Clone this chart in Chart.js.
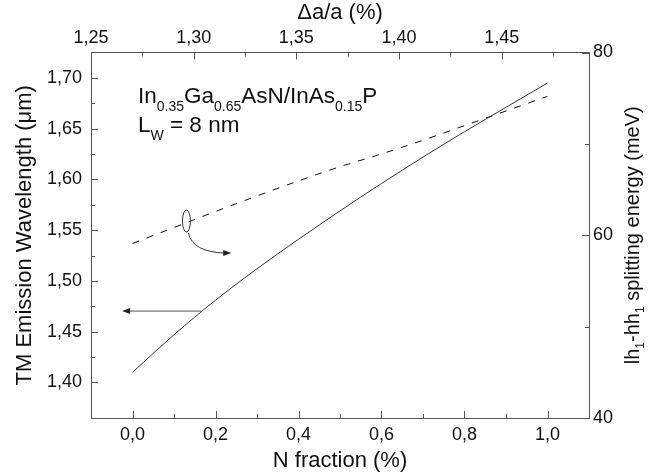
<!DOCTYPE html>
<html>
<head>
<meta charset="utf-8">
<script src="https://cdn.jsdelivr.net/npm/chart.js@4"></script>
<style>
  html, body { margin: 0; padding: 0; background: #fff; }
  #wrap { width: 648px; height: 474px; }
</style>
</head>
<body>
<div id="wrap"><canvas id="chart" width="648" height="474"></canvas></div>
<script>
'use strict';

// data
const nFraction = [0, 0.1, 0.2, 0.3, 0.4, 0.5, 0.6, 0.7, 0.8, 0.9, 1.0];
const wavelength = [1.410, 1.447, 1.481, 1.512, 1.541, 1.569, 1.596, 1.622, 1.647, 1.671, 1.695];
const splitting = [59.1, 60.85, 62.6, 64.3, 65.95, 67.5, 68.9, 70.4, 72.0, 73.6, 75.2];

// axis ticks
const bottomTicks = [0, 0.2, 0.4, 0.6, 0.8, 1.0];
const bottomMinor = [0.1, 0.3, 0.5, 0.7, 0.9];
const topTicks = [1.25, 1.30, 1.35, 1.40, 1.45];
const topMinor = [1.275, 1.325, 1.375, 1.425, 1.475];
const leftTicks = [1.40, 1.45, 1.50, 1.55, 1.60, 1.65, 1.70];
const leftMinor = [1.425, 1.475, 1.525, 1.575, 1.625, 1.675];
const rightTicks = [40, 60, 80];
const rightMinor = [50, 70];

const FONT = '"Liberation Sans", Arial, sans-serif';
const TEXT = '#111';
const AXIS = '#555';

const fmt = (v, d) => Number(v).toFixed(d).replace('.', ',');
const font = (size) => ({ family: FONT, size });
const setTicks = (arr) => (s) => { s.ticks = arr.map((v) => ({ value: v })); };

// inward major/minor tick marks
const tickMarks = {
  id: 'tickMarks',
  afterDraw(chart) {
    const { ctx, chartArea: a, scales } = chart;
    ctx.save();
    ctx.strokeStyle = AXIS;
    ctx.lineWidth = 1;
    const vert = (scale, vals, y0, dir, len) => vals.forEach((v) => {
      const x = Math.round(scale.getPixelForValue(v)) + 0.5;
      ctx.beginPath(); ctx.moveTo(x, y0); ctx.lineTo(x, y0 + dir * len); ctx.stroke();
    });
    const horiz = (scale, vals, x0, dir, len) => vals.forEach((v) => {
      const y = Math.round(scale.getPixelForValue(v)) + 0.5;
      ctx.beginPath(); ctx.moveTo(x0, y); ctx.lineTo(x0 + dir * len, y); ctx.stroke();
    });
    vert(scales.x, bottomTicks, a.bottom, -1, 7);
    vert(scales.x, bottomMinor, a.bottom, -1, 4);
    vert(scales.x2, topTicks, a.top, 1, 7);
    vert(scales.x2, topMinor, a.top, 1, 4);
    horiz(scales.y, leftTicks, a.left, 1, 7);
    horiz(scales.y, leftMinor, a.left, 1, 4);
    horiz(scales.y2, rightTicks, a.right, -1, 7);
    horiz(scales.y2, rightMinor, a.right, -1, 4);
    ctx.restore();
  },
};

// text with subscripts
function richWidth(ctx, parts, size, subSize) {
  return parts.reduce((w, [t, sub]) => {
    ctx.font = `${sub ? subSize : size}px ${FONT}`;
    return w + ctx.measureText(t).width;
  }, 0);
}

function drawRich(ctx, parts, x, y, size, subSize, drop) {
  parts.forEach(([t, sub]) => {
    ctx.font = `${sub ? subSize : size}px ${FONT}`;
    ctx.fillText(t, x, sub ? y + drop : y);
    x += ctx.measureText(t).width;
  });
}

function arrowHead(ctx, x, y, angle) {
  ctx.save();
  ctx.translate(x, y);
  ctx.rotate(angle);
  ctx.beginPath();
  ctx.moveTo(0, 0);
  ctx.lineTo(-8, -3);
  ctx.lineTo(-8, 3);
  ctx.closePath();
  ctx.fill();
  ctx.restore();
}

const notes = {
  id: 'notes',
  afterDatasetsDraw(chart) {
    const { ctx, chartArea: a, scales } = chart;
    ctx.save();
    ctx.fillStyle = TEXT;
    ctx.textBaseline = 'alphabetic';
    drawRich(ctx, [['In'], ['0.35', 1], ['Ga'], ['0.65', 1], ['AsN/InAs'], ['0.15', 1], ['P']],
      a.left + 47, a.top + 50.5, 22.5, 14, 8);
    drawRich(ctx, [['L'], ['W', 1], [' = 8 nm']], a.left + 47, a.top + 79, 22.5, 14, 8);

    // ellipse marking the dashed curve
    const ex = scales.x.getPixelForValue(0.13);
    const ey = scales.y2.getPixelForValue(61.56);
    ctx.strokeStyle = '#333';
    ctx.lineWidth = 1;
    ctx.beginPath();
    ctx.ellipse(ex, ey, 4, 11, 0, 0, Math.PI * 2);
    ctx.stroke();

    // curved arrow to the right axis
    const tx = scales.x.getPixelForValue(0.238);
    const ty = scales.y2.getPixelForValue(58.05);
    ctx.fillStyle = '#222';
    ctx.beginPath();
    ctx.moveTo(ex + 2, ey + 12);
    ctx.quadraticCurveTo(ex + 6, ty - 1, tx - 6, ty);
    ctx.stroke();
    arrowHead(ctx, tx, ty, 0);

    // straight arrow to the left axis
    const ay = scales.y.getPixelForValue(1.4703);
    const ax0 = scales.x.getPixelForValue(0.166);
    const ax1 = scales.x.getPixelForValue(-0.025);
    ctx.strokeStyle = '#555';
    ctx.beginPath();
    ctx.moveTo(ax0, ay);
    ctx.lineTo(ax1 + 4, ay);
    ctx.stroke();
    arrowHead(ctx, ax1, ay, Math.PI);
    ctx.restore();
  },
  afterDraw(chart) {
    // right axis title, read bottom-to-top with real subscripts
    const { ctx, chartArea: a } = chart;
    const parts = [['lh'], ['1', 1], ['-hh'], ['1', 1], [' splitting energy (meV)']];
    ctx.save();
    ctx.fillStyle = TEXT;
    ctx.textBaseline = 'alphabetic';
    ctx.translate(639, (a.top + a.bottom) / 2);
    ctx.rotate(-Math.PI / 2);
    const w = richWidth(ctx, parts, 20, 12);
    drawRich(ctx, parts, -w / 2, 0, 20, 12, 5);
    ctx.restore();
  },
};

new Chart(document.getElementById('chart'), {
  type: 'line',
  data: {
    datasets: [
      {
        label: 'TM emission wavelength',
        data: nFraction.map((x, i) => ({ x, y: wavelength[i] })),
        xAxisID: 'x',
        yAxisID: 'y',
        borderColor: '#333',
        borderWidth: 1,
        pointRadius: 0,
        cubicInterpolationMode: 'monotone',
      },
      {
        label: 'lh1-hh1 splitting energy',
        data: nFraction.map((x, i) => ({ x, y: splitting[i] })),
        xAxisID: 'x',
        yAxisID: 'y2',
        borderColor: '#111',
        borderWidth: 1,
        borderDash: [7, 8],
        pointRadius: 0,
        cubicInterpolationMode: 'monotone',
      },
    ],
  },
  options: {
    responsive: false,
    animation: false,
    layout: { padding: 0 },
    plugins: { legend: { display: false }, tooltip: { enabled: false } },
    scales: {
      x: {
        type: 'linear',
        position: 'bottom',
        min: -0.1,
        max: 1.1,
        afterBuildTicks: setTicks(bottomTicks),
        afterFit: (s) => { s.height = 56; },
        ticks: { autoSkip: false, maxRotation: 0, padding: 6, color: TEXT, font: font(18), callback: (v) => fmt(v, 1) },
        grid: { drawOnChartArea: false, drawTicks: false },
        border: { color: AXIS, width: 1 },
        title: { display: true, text: 'N fraction (%)', color: TEXT, font: font(22), padding: { top: 0, bottom: 0 } },
      },
      x2: {
        type: 'linear',
        position: 'top',
        min: 1.25,
        max: 1.4925,
        afterBuildTicks: setTicks(topTicks),
        afterFit: (s) => { s.height = 52.5; },
        ticks: { autoSkip: false, maxRotation: 0, padding: 4, color: TEXT, font: font(18), callback: (v) => fmt(v, 2) },
        grid: { drawOnChartArea: false, drawTicks: false },
        border: { color: AXIS, width: 1 },
        title: { display: true, text: 'Δa/a (%)', color: TEXT, font: font(22), padding: { top: 0, bottom: 0 } },
      },
      y: {
        type: 'linear',
        position: 'left',
        min: 1.365,
        max: 1.725,
        afterBuildTicks: setTicks(leftTicks),
        afterFit: (s) => { s.width = 91; },
        ticks: { autoSkip: false, padding: 9, color: TEXT, font: font(18), callback: (v) => fmt(v, 2) },
        grid: { drawOnChartArea: false, drawTicks: false },
        border: { color: AXIS, width: 1 },
        title: { display: true, text: 'TM Emission Wavelength (μm)', color: TEXT, font: font(22), padding: { top: 12, bottom: 0 } },
      },
      y2: {
        type: 'linear',
        position: 'right',
        min: 40,
        max: 80,
        afterBuildTicks: setTicks(rightTicks),
        afterFit: (s) => { s.width = 59; },
        ticks: { autoSkip: false, padding: 4, color: TEXT, font: font(18), callback: (v) => String(v) },
        grid: { drawOnChartArea: false, drawTicks: false },
        border: { color: AXIS, width: 1 },
        title: { display: false },
      },
    },
  },
  plugins: [tickMarks, notes],
});
</script>
</body>
</html>
